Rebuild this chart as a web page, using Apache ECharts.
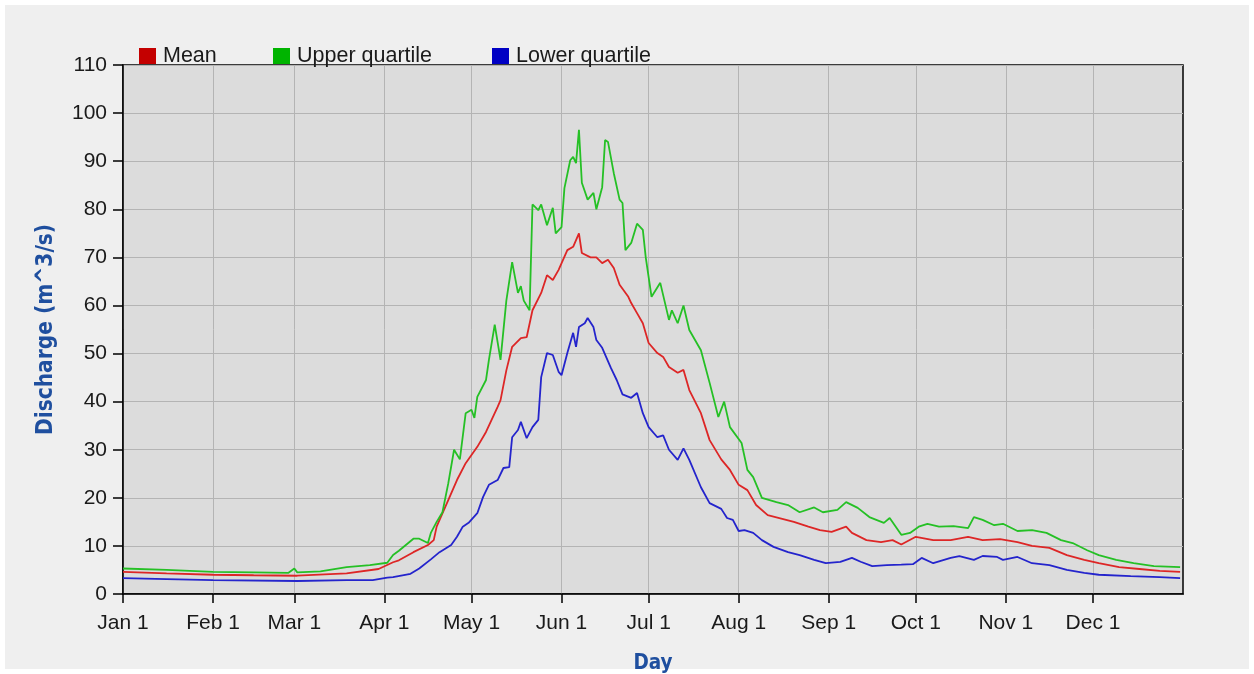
<!DOCTYPE html>
<html>
<head>
<meta charset="utf-8">
<script src="https://cdn.jsdelivr.net/npm/echarts@6/dist/echarts.min.js"></script>
<style>
html,body{margin:0;padding:0;background:#ffffff;}
#bg{position:absolute;left:5px;top:5px;width:1244px;height:664px;background:#efefef;}
#chart{position:absolute;left:0;top:0;width:1254px;height:674px;}
</style>
</head>
<body>
<div id="bg"></div>
<div id="chart"></div>
<script>
const monthStarts = [0,31,59,90,120,151,181,212,243,273,304,334];
const monthLabels = ['Jan 1','Feb 1','Mar 1','Apr 1','May 1','Jun 1','Jul 1','Aug 1','Sep 1','Oct 1','Nov 1','Dec 1'];
const seriesNames = ['Mean','Upper quartile','Lower quartile'];

const upperDays = [0,15,31,45,57,59,60,68,77,85,91,93,95,100,102,105,106,108,110,112,114,116,118,120,121,122,125,126,128,130,132,134,136,137,138,140,141,143,144,146,148,149,151,152,154,155,156,157,158,160,162,163,165,166,167,169,171,172,173,175,177,179,180,182,185,188,189,191,193,195,199,202,205,207,209,213,215,217,220,225,229,233,238,241,246,249,253,257,262,264,268,271,274,277,281,286,291,293,296,300,303,308,313,318,323,327,332,336,342,348,355,364];
const upperVals = [5.3,5.0,4.6,4.5,4.4,5.3,4.5,4.7,5.6,6.0,6.5,8.1,9.0,11.5,11.5,10.6,12.7,15,17,23,30,28,37.6,38.3,36.6,41,44.5,48.7,56,48.7,61,69,62.6,64,61,59,81,79.8,81,76.7,80.3,75,76.3,84.4,90.2,90.9,89.6,96.5,85.5,82,83.4,80,84.6,94.4,94,87.5,82,81.3,71.5,73,77,75.7,70,61.8,64.7,57,59,56.3,60,54.9,50.7,43.9,36.8,40,34.7,31.4,25.8,24.3,20,19.1,18.5,17,18,17,17.5,19.1,17.9,16,14.8,15.8,12.3,12.7,14,14.6,14,14.1,13.7,16,15.4,14.3,14.6,13.1,13.3,12.7,11.2,10.6,9.1,8.1,7.1,6.4,5.8,5.6];

const meanDays = [0,15,31,45,60,77,88,93,95,100,105,107,108,112,115,118,122,125,129,130,132,134,137,139,141,144,146,148,150,153,155,157,158,161,163,165,167,169,171,174,175,177,179,181,184,186,188,191,193,195,199,202,206,209,212,215,218,222,226,231,236,240,244,249,251,256,261,265,268,273,279,285,291,296,302,308,313,319,325,331,336,343,350,357,364];
const meanVals = [4.6,4.3,4.0,3.9,3.8,4.3,5.2,6.6,7.0,8.7,10.2,11.2,14,19.5,23.7,27.2,30.6,33.7,38.9,40.3,46.5,51.4,53.2,53.4,59,62.6,66.3,65.3,67.4,71.5,72.2,75,70.9,70,70,68.8,69.5,67.8,64.3,61.8,60.5,58.4,56.3,52.2,50.1,49.3,47.2,46,46.6,42.4,37.6,32,28,25.8,22.7,21.6,18.5,16.4,15.8,15,14,13.3,12.9,14,12.7,11.2,10.8,11.2,10.3,11.9,11.2,11.2,11.9,11.2,11.4,10.8,10,9.6,8.1,7.1,6.4,5.6,5.2,4.8,4.6];

const lowerDays = [0,15,31,60,77,86,91,93,99,102,106,109,113,115,117,119,122,124,126,129,131,133,134,136,137,139,141,143,144,146,148,150,151,153,155,156,157,159,160,162,163,165,168,170,172,175,177,179,181,184,186,188,191,193,195,199,202,206,208,210,212,214,217,220,224,229,233,238,242,247,251,254,258,263,268,272,275,279,285,288,293,296,301,303,308,313,319,325,331,336,347,357,364];
const lowerVals = [3.3,3.1,2.9,2.7,2.9,2.9,3.4,3.5,4.2,5.3,7.2,8.7,10.2,11.9,14,14.8,16.8,20.2,22.7,23.7,26.2,26.4,32.6,34.1,35.8,32.4,34.7,36.2,45.1,50.1,49.7,46.2,45.5,50.1,54.3,51.4,55.5,56.3,57.4,55.5,52.8,51.2,47,44.5,41.5,40.8,41.8,37.6,34.7,32.6,33,30,27.9,30.3,27.9,22.2,18.9,17.7,15.8,15.4,13.1,13.3,12.7,11.2,9.8,8.7,8.1,7.1,6.4,6.7,7.5,6.7,5.8,6,6.1,6.2,7.5,6.4,7.5,7.9,7.1,7.9,7.7,7.1,7.7,6.4,6,5,4.4,4,3.7,3.5,3.3];

function zip(d, v) { return d.map((x, i) => [x, v[i]]); }

const lineColors = ['#dd2626', '#25c025', '#2424cc'];
const legendColors = ['#c40000', '#00b400', '#0000c4'];
const legendLefts = [139, 273, 492];

const chart = echarts.init(document.getElementById('chart'), null, {renderer: 'canvas'});
const tickFont = {fontFamily: '"Liberation Sans", Arial, sans-serif', fontSize: 21, color: '#1a1a1a'};
const legendFont = Object.assign({}, tickFont, {fontSize: 21.5, padding: [0, 0, 0, 2]});
const nameFontY = {fontFamily: '"DejaVu Sans Condensed", "DejaVu Sans", sans-serif', fontSize: 22.5, fontWeight: 'bold', color: '#1f4f9f'};
const nameFontX = {fontFamily: '"DejaVu Sans Condensed", "DejaVu Sans", sans-serif', fontSize: 20.5, fontWeight: 'bold', color: '#1f4f9f'};

chart.setOption({
  backgroundColor: 'transparent',
  animation: false,
  grid: {left: 123, right: 71, top: 65, bottom: 80, show: true, backgroundColor: '#dcdcdc', borderColor: '#000', borderWidth: 1.5, containLabel: false, outerBoundsMode: 'none'},
  legend: seriesNames.map((n, i) => ({
    left: legendLefts[i], top: 45, padding: 0,
    itemWidth: 17, itemHeight: 16, itemGap: 0, icon: 'rect',
    data: [{name: n, itemStyle: {color: legendColors[i]}}],
    textStyle: legendFont
  })),
  xAxis: {
    type: 'value', min: 0, max: 365,
    name: 'Day', nameLocation: 'middle', nameGap: 59, nameTextStyle: nameFontX,
    axisLine: {show: true, onZero: false, lineStyle: {color: '#000', width: 1.5}},
    axisTick: {show: true, length: 9, customValues: monthStarts, lineStyle: {color: '#000', width: 1.5}},
    axisLabel: Object.assign({}, tickFont, {
      customValues: monthStarts, margin: 19,
      formatter: v => monthLabels[monthStarts.indexOf(v)] || ''
    }),
    splitLine: {show: true, lineStyle: {color: '#b4b4b4', width: 1}}
  },
  yAxis: {
    type: 'value', min: 0, max: 110, interval: 10,
    name: 'Discharge (m^3/s)', nameLocation: 'middle', nameGap: 65, nameRotate: 90, nameTextStyle: nameFontY,
    axisLine: {show: true, lineStyle: {color: '#000', width: 1.5}},
    axisTick: {show: true, length: 10, lineStyle: {color: '#000', width: 1.5}},
    axisLabel: Object.assign({}, tickFont, {margin: 16}),
    splitLine: {show: true, lineStyle: {color: '#b4b4b4', width: 1}}
  },
  series: [
    {name: seriesNames[0], type: 'line', data: zip(meanDays, meanVals)},
    {name: seriesNames[1], type: 'line', data: zip(upperDays, upperVals)},
    {name: seriesNames[2], type: 'line', data: zip(lowerDays, lowerVals)}
  ].map((s, i) => Object.assign(s, {
    showSymbol: false, symbol: 'none', smooth: false,
    color: lineColors[i],
    lineStyle: {color: lineColors[i], width: 1.8}
  }))
});
</script>
</body>
</html>
